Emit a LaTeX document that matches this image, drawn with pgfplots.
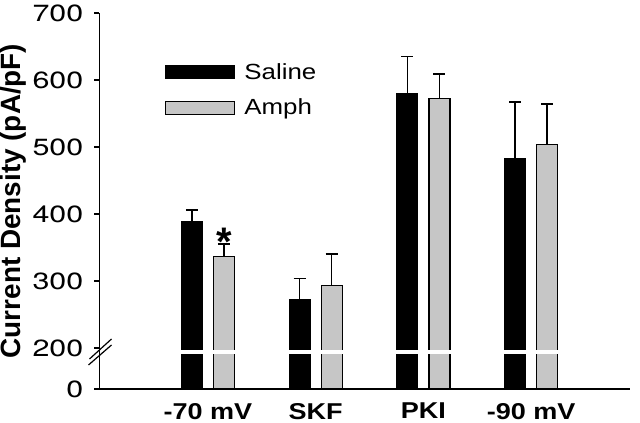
\documentclass[border=0pt]{standalone}
\usepackage{pgfplots}
\pgfplotsset{compat=1.18}
\usepackage{pgfplotstable}
\usepackage{fontspec}
\setmainfont{Liberation Sans}
\newfontfamily\stretchfont[FakeStretch=1.18]{Liberation Sans}
\newfontfamily\tickfont[FakeStretch=1.3]{TeX Gyre Heros}
\usetikzlibrary{calc}
\definecolor{amphgray}{RGB}{198,198,198}
\pgfplotsset{boxlegend/.style={legend image code/.code={\draw[##1] (0bp,-6.5bp) rectangle (69bp,6.5bp);}}}
\newcommand\yl[1]{\mbox{\tickfont\fontsize{23.5}{26}\selectfont #1}}

\pgfplotstableread{
x mean top
0 388 406
1 272 304
2 579 635
3 483 567
}\saline
\pgfplotstableread{
x mean top
0 336 355
1 293 340
2 572 609
3 504 564
}\amph

\begin{document}
\begin{tikzpicture}
\begin{axis}[
 scale only axis, width=530.5bp, height=376bp,
 xmin=-1.007, xmax=3.918, ymin=0, ymax=561.2,
 axis x line=bottom, axis y line=left,
 axis line style={-, line width=1.2bp},
 xtick={0,1,2,3}, xticklabels={-70 mV, SKF, PKI, -90 mV},
 x tick label style={font=\stretchfont\fontsize{23}{26}\selectfont\bfseries, inner sep=0pt, yshift=-9bp},
 major x tick style={draw=none},
 ytick={0,61.2,161.2,261.2,361.2,461.2,561.2},
 yticklabels={\yl{0},\yl{200},\yl{300},\yl{400},\yl{500},\yl{600},\yl{700}},
 y tick label style={inner sep=0pt, xshift=-11bp},
 tick align=outside, major tick length=5bp,
 y tick style={line width=1.2bp, black},
 ylabel={Current Density (pA/pF)},
 ylabel style={font=\fontsize{28}{32}\selectfont\bfseries, at={(axis description cs:-0.162,0.5)}, anchor=center},
 clip=false,
 legend style={at={(rel axis cs:0.1235,0.871)}, anchor=north west, draw=none, fill=none, inner sep=0pt, row sep=14bp, column sep=7bp, font=\stretchfont\fontsize{22}{25}\selectfont, nodes={inner sep=2bp}},
 legend cell align=left,
]
\coordinate (O) at (rel axis cs:0,0);
\addplot[ybar, bar width=21bp, bar shift=0pt, fill=black, draw=black, line width=1.2bp, boxlegend,
  error bars/.cd, y dir=plus, y explicit,
  error bar style={black, line width=1.5bp}, error mark options={rotate=90, black, line width=1.5bp, mark size=6bp}]
  table[x expr=\thisrow{x}-0.1486, y expr=\thisrow{mean}-138.8, y error expr=\thisrow{top}-\thisrow{mean}] {\saline};
\addlegendentry{Saline}
\addplot[ybar, bar width=21bp, bar shift=0pt, fill=amphgray, draw=black, line width=1.2bp, boxlegend,
  error bars/.cd, y dir=plus, y explicit,
  error bar style={black, line width=1.5bp}, error mark options={rotate=90, black, line width=1.5bp, mark size=6bp}]
  table[x expr=\thisrow{x}+0.1486, y expr=\thisrow{mean}-138.8, y error expr=\thisrow{top}-\thisrow{mean}] {\amph};
\addlegendentry{Amph}
\draw[white, line width=4bp] ([xshift=-28bp]axis cs:0,55.2) -- ([xshift=28bp]axis cs:0,55.2);
\draw[white, line width=4bp] ([xshift=-28bp]axis cs:1,55.2) -- ([xshift=28bp]axis cs:1,55.2);
\draw[white, line width=4bp] ([xshift=-28bp]axis cs:2,55.2) -- ([xshift=28bp]axis cs:2,55.2);
\draw[white, line width=4bp] ([xshift=-28bp]axis cs:3,55.2) -- ([xshift=28bp]axis cs:3,55.2);
\node[anchor=north, inner sep=0pt, font=\fontsize{40}{40}\selectfont\bfseries] at ([xshift=16bp]axis cs:0,240.3) {*};
\end{axis}
\draw[line width=1.2bp] ($(O)+(-11bp,24bp)$) -- ($(O)+(12bp,44bp)$);
\draw[line width=1.2bp] ($(O)+(-10bp,30bp)$) -- ($(O)+(12bp,50bp)$);
\pgfresetboundingbox
\path[use as bounding box] ($(O)+(-99.5bp,-34bp)$) rectangle ($(O)+(540.5bp,389bp)$);
\end{tikzpicture}
\end{document}
